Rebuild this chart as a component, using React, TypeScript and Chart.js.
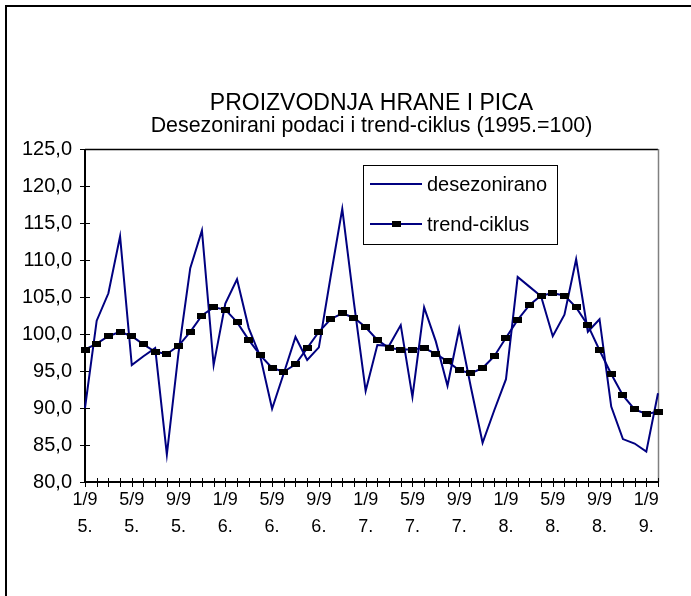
import React, { useEffect, useRef } from 'react';
import { Chart, registerables } from 'chart.js';

Chart.register(...registerables);

const categories = [
  '1/95.', '2/95.', '3/95.', '4/95.', '5/95.', '6/95.', '7/95.', '8/95.', '9/95.', '10/95.', '11/95.', '12/95.',
  '1/96.', '2/96.', '3/96.', '4/96.', '5/96.', '6/96.', '7/96.', '8/96.', '9/96.', '10/96.', '11/96.', '12/96.',
  '1/97.', '2/97.', '3/97.', '4/97.', '5/97.', '6/97.', '7/97.', '8/97.', '9/97.', '10/97.', '11/97.', '12/97.',
  '1/98.', '2/98.', '3/98.', '4/98.', '5/98.', '6/98.', '7/98.', '8/98.', '9/98.', '10/98.', '11/98.', '12/98.',
  '1/99.', '2/99.',
];

const desezonirano = [
  90.0, 101.8, 105.5, 113.2, 95.8, 97.0, 98.1, 83.7, 97.5, 108.9, 114.0, 95.8,
  104.1, 107.4, 100.8, 96.9, 89.9, 94.7, 99.6, 96.5, 98.2, 107.7, 116.9, 104.2,
  92.3, 98.5, 98.4, 101.2, 91.5, 103.6, 99.0, 93.0, 100.7, 92.8, 85.3, 89.7,
  93.9, 107.7, 106.4, 105.1, 99.7, 102.6, 110.1, 100.3, 102.0, 90.2, 85.8, 85.2,
  84.1, 92.0,
];

const trendCiklus = [
  97.9, 98.7, 99.7, 100.3, 99.7, 98.6, 97.6, 97.3, 98.4, 100.3, 102.5, 103.6,
  103.3, 101.6, 99.2, 97.1, 95.4, 94.9, 95.9, 98.1, 100.3, 102.0, 102.8, 102.2,
  100.9, 99.2, 98.1, 97.9, 97.9, 98.1, 97.3, 96.3, 95.1, 94.7, 95.4, 97.0,
  99.5, 101.9, 103.9, 105.2, 105.5, 105.2, 103.6, 101.2, 97.8, 94.6, 91.7, 89.8,
  89.2, 89.5,
];

const yMin = 80;
const yMax = 125;
const yStep = 5;

const titleText = 'PROIZVODNJA HRANE I PICA';
const subtitleText = 'Desezonirani podaci i trend-ciklus (1995.=100)';
const seriesNames = ['desezonirano', 'trend-ciklus'];

const NAVY = '#000080';
const FONT = '"Liberation Sans", Arial, Helvetica, sans-serif';

function makeMarker(): HTMLCanvasElement {
  const c = document.createElement('canvas');
  c.width = 9;
  c.height = 6;
  const g = c.getContext('2d');
  if (g) {
    g.fillStyle = '#000';
    g.fillRect(0, 0, 9, 6);
  }
  return c;
}

const framePlugin = {
  id: 'framePlugin',
  beforeDatasetsDraw(chart: any) {
    const { ctx, chartArea: a, scales } = chart;
    const xs = scales.x;
    const ys = scales.y;
    const line = (x1: number, y1: number, x2: number, y2: number) => {
      ctx.beginPath();
      ctx.moveTo(x1, y1);
      ctx.lineTo(x2, y2);
      ctx.stroke();
    };
    ctx.save();
    ctx.lineWidth = 1.5;
    ctx.strokeStyle = '#000';
    line(a.left, a.top + 0.5, a.right, a.top + 0.5);
    ctx.strokeStyle = '#808080';
    line(a.right + 0.5, a.top, a.right + 0.5, a.bottom);
    ctx.strokeStyle = '#000';
    ctx.lineWidth = 2;
    line(a.left, a.top, a.left, a.bottom + 1);
    line(a.left - 1, a.bottom, a.right, a.bottom);
    ctx.lineWidth = 1;
    ys.ticks.forEach((_t: any, i: number) => {
      const py = Math.round(ys.getPixelForTick(i)) + 0.5;
      line(a.left - 5, py, a.left + 5, py);
    });
    xs.ticks.forEach((_t: any, i: number) => {
      const px = Math.round(xs.getPixelForTick(i)) + 0.5;
      line(px, a.bottom - 4, px, a.bottom + 5);
    });
    ctx.restore();
  },
  afterDatasetsDraw(chart: any) {
    const { ctx, chartArea: a } = chart;
    const left = a.left + 278;
    const top = a.top + 16;
    const w = 194;
    const h = 79;
    ctx.save();
    ctx.fillStyle = '#fff';
    ctx.fillRect(left, top, w, h);
    ctx.strokeStyle = '#000';
    ctx.lineWidth = 1;
    ctx.strokeRect(left + 0.5, top + 0.5, w, h);
    const ds = chart.data.datasets;
    const rows = [ds[0], ds[1]];
    rows.forEach((d: any, i: number) => {
      const cy = top + 19 + i * 40;
      ctx.strokeStyle = d.borderColor;
      ctx.lineWidth = 2;
      ctx.beginPath();
      ctx.moveTo(left + 7, cy);
      ctx.lineTo(left + 59, cy);
      ctx.stroke();
      if (d.pointRadius > 0 && d.pointStyle) {
        const img = d.pointStyle as HTMLCanvasElement;
        ctx.drawImage(img, left + 33 - img.width / 2, cy - img.height / 2);
      }
      ctx.fillStyle = '#000';
      ctx.font = `20px ${FONT}`;
      ctx.textBaseline = 'middle';
      ctx.textAlign = 'left';
      ctx.fillText(d.label, left + 64, cy + 1);
    });
    ctx.restore();
  },
};

export default function App() {
  const canvasRef = useRef<HTMLCanvasElement | null>(null);

  useEffect(() => {
    const canvas = canvasRef.current;
    if (!canvas) return;
    const marker = makeMarker();
    const chart = new Chart(canvas, {
      type: 'line',
      data: {
        labels: categories,
        datasets: [
          {
            label: seriesNames[0],
            data: desezonirano,
            borderColor: NAVY,
            backgroundColor: NAVY,
            borderWidth: 2,
            pointRadius: 0,
            pointHoverRadius: 0,
            tension: 0,
            fill: false,
            clip: false as any,
            order: 1,
          },
          {
            label: seriesNames[1],
            data: trendCiklus,
            borderColor: NAVY,
            backgroundColor: '#000',
            borderWidth: 2,
            pointStyle: marker as any,
            pointRadius: 5,
            pointHoverRadius: 5,
            pointBackgroundColor: '#000',
            pointBorderColor: '#000',
            tension: 0,
            fill: false,
            clip: false as any,
            order: 0,
          },
        ],
      },
      options: {
        responsive: false,
        animation: false,
        events: [],
        layout: { padding: { top: 92.5, right: 33, bottom: 0, left: 0 } },
        plugins: {
          legend: { display: false },
          tooltip: { enabled: false },
          title: {
            display: true,
            text: titleText,
            color: '#000',
            fullSize: false,
            font: { family: FONT, size: 23, weight: 'normal', lineHeight: 1 },
            padding: { top: 0, bottom: 0 },
          },
          subtitle: {
            display: true,
            text: subtitleText,
            color: '#000',
            fullSize: false,
            font: { family: FONT, size: 21.4, weight: 'normal', lineHeight: 1 },
            padding: { top: 0, bottom: 12.1 },
          },
        },
        scales: {
          x: {
            type: 'category',
            offset: false,
            grid: { display: false, drawTicks: false },
            border: { display: false },
            afterFit: (s: any) => {
              s.height = 114;
            },
            ticks: {
              autoSkip: false,
              maxRotation: 0,
              minRotation: 0,
              padding: 5,
              color: '#000',
              font: { family: FONT, size: 18, lineHeight: 1.5 },
              callback: (_v: any, i: number) => {
                if (i % 4 !== 0) return '';
                const lab = categories[i];
                return [lab.slice(0, 3), lab.slice(3)];
              },
            },
          },
          y: {
            min: yMin,
            max: yMax,
            grid: { display: false, drawTicks: false },
            border: { display: false },
            afterFit: (s: any) => {
              s.width = 85;
            },
            ticks: {
              stepSize: yStep,
              padding: 13,
              color: '#000',
              font: { family: FONT, size: 20 },
              callback: (v: any) => Number(v).toFixed(1).replace('.', ','),
            },
          },
        },
      },
      plugins: [framePlugin],
    });
    return () => chart.destroy();
  }, []);

  return (
    <div style={{ position: 'absolute', left: 0, top: 0, width: 691, height: 596, overflow: 'hidden', background: '#fff' }}>
      <canvas ref={canvasRef} width={691} height={596} style={{ display: 'block' }} />
      <div
        style={{
          position: 'absolute',
          left: 5,
          top: 5,
          width: 684,
          height: 589,
          borderLeft: '2px solid #000',
          borderTop: '2px solid #000',
          pointerEvents: 'none',
        }}
      />
    </div>
  );
}
